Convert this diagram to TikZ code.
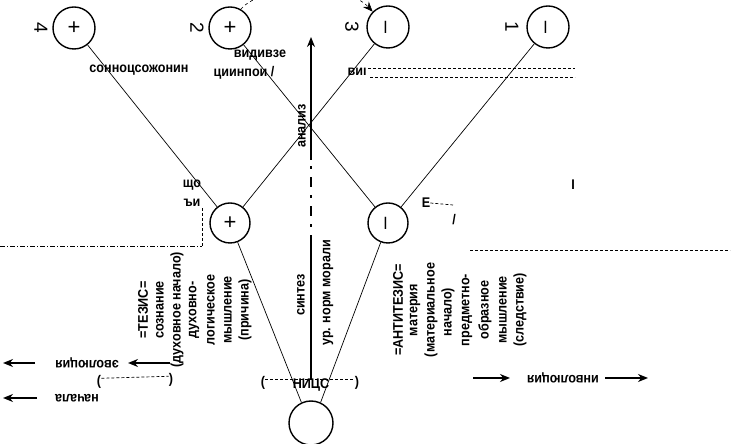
\documentclass[tikz,border=0pt]{standalone}
\usepackage{fontspec}
\setmainfont{Liberation Sans}[BoldFeatures={FakeStretch=0.9}]
\usetikzlibrary{arrows.meta}
\usetikzlibrary{positioning}
\tikzset{>={Stealth[length=10pt,width=8pt]}}

\begin{document}
\begin{tikzpicture}[x=1pt,y=1pt,
    pole/.style={circle,draw,line width=1.4pt,minimum size=42pt,inner sep=0pt},
    sign/.style={font=\fontsize{22}{22}\selectfont,inner sep=0pt},
    num/.style={font=\fontsize{19}{19}\selectfont,rotate=-90,inner sep=0pt},
    txt/.style={font=\bfseries\fontsize{14}{16}\selectfont,inner sep=0pt},
    vtxt/.style={txt,rotate=90},
    utxt/.style={txt,rotate=180},
    link/.style={line width=0.7pt},
    fat/.style={->,line width=1.9pt},
    dots/.style={line width=0.7pt,dash pattern=on 3pt off 2pt}]
  \useasboundingbox (0,0) rectangle (753,444);
  \clip (0,0) rectangle (753,444);
  % upper poles
  \node[pole] (p4) at (74,416) {};
  \node[pole] (p2) at (230,416) {};
  \node[pole] (p3) at (388,417) {};
  \node[pole] (p1) at (548,417) {};
  \node[sign] (p4s) at (p4) {+};
  \node[sign] (p2s) at (p2) {+};
  \node[sign,rotate=90] (p3s) at (p3) {–};
  \node[sign,rotate=90] (p1s) at (p1) {–};
  \node[num] (n4) at (41,416) {4};
  \node[num] (n2) at (197,416) {2};
  \node[num] (n3) at (352,417) {3};
  \node[num] (n1) at (512,417) {1};
  % thesis, antithesis, bottom
  \node[pole,minimum size=40pt] (pt) at (230,221) {};
  \node[pole,minimum size=40pt] (pa) at (388,221) {};
  \node[pole,minimum size=44pt] (pb) at (311,21) {};
  \node[sign] (pts) at (pt) {+};
  \node[sign,rotate=90] (pas) at (pa) {–};
  % connectors
  \draw[link] (p4) -- (pt);
  \draw[link] (p2) -- (pa);
  \draw[link] (p3) -- (pt);
  \draw[link] (p1) -- (pa);
  \draw[link] (pt) -- (pb.115);
  \draw[link] (pa) -- (pb.65);
  \draw[->,dashed,line width=0.6pt] (p2.60) .. controls (262,460) and (345,462) .. (p3.135);
  % axis
  \node[txt] (nic) at (311,59) {НИЦС};
  \node[txt] (lpar) at (263,61) {(};
  \node[txt] (rpar) at (357,61) {)};
  \draw[dots] ([yshift=-3pt]lpar.north east) -- ([yshift=-3pt]rpar.north west);
  \coordinate (axlow) at (311,199);
  \coordinate (axmid) at (311,284);
  \coordinate (axtop) at (311,407);
  \draw[line width=1.6pt] (nic.north) -- (axlow);
  \draw[line width=1.6pt,dash pattern=on 10pt off 8pt on 3pt off 8pt] (axlow) -- (axmid);
  \draw[line width=1.6pt,->] (axmid) -- (axtop);
  \node[vtxt] (analiz) at (302,318) {анализ};
  \node[vtxt] (sintez) at (301,149) {синтез};
  \node[vtxt] (moral) at (328,151) {ур. норм морали};
  % thesis text
  \node[vtxt] (tz0) at (143,134) {=ТЕЗИС=};
  \node[vtxt] (tz1) at (160,134) {сознание};
  \node[vtxt] (tz2) at (177,134) {(духовное начало)};
  \node[vtxt] (tz3) at (194,134) {духовно-};
  \node[vtxt] (tz4) at (211,134) {логическое};
  \node[vtxt] (tz5) at (228,134) {мышление};
  \node[vtxt] (tz6) at (245,134) {(причина)};
  % antithesis text
  \node[vtxt] (at0) at (398,134) {=АНТИТЕЗИС=};
  \node[vtxt] (at1) at (415,134) {материя};
  \node[vtxt] (at2) at (431,134) {(материальное};
  \node[vtxt] (at3) at (448,132) {начало)};
  \node[vtxt] (at4) at (467,134) {предметно-};
  \node[vtxt] (at5) at (485,134) {образное};
  \node[vtxt] (at6) at (503,134) {мышление};
  \node[vtxt] (at7) at (520,134) {(следствие)};
  % bottom rows
  \node[utxt] (evo) at (87,81) {эволюция};
  \coordinate (e1s) at (35,81);  \coordinate (e1e) at (3,81);
  \coordinate (e2s) at (170,81); \coordinate (e2e) at (128,81);
  \draw[fat] (e1s) -- (e1e);
  \draw[fat] (e2s) -- (e2e);
  \node[txt] (blpar) at (99,62) {(};
  \node[txt] (brpar) at (171,64) {)};
  \draw[dots] ([yshift=-3pt]blpar.north east) -- ([yshift=-3pt]brpar.north west);
  \node[utxt] (nach) at (77,46) {начала};
  \coordinate (n1s) at (37,46); \coordinate (n1e) at (3,46);
  \draw[fat] (n1s) -- (n1e);
  \node[utxt] (inv) at (563,66) {инволюция};
  \coordinate (i1s) at (473,66); \coordinate (i1e) at (510,66);
  \coordinate (i2s) at (605,66); \coordinate (i2e) at (648,66);
  \draw[fat] (i1s) -- (i1e);
  \draw[fat] (i2s) -- (i2e);
  % top row
  \node[txt] (top1) at (139,374) {сонноцсожонин};
  \node[txt] (top2) at (260,389) {видивзе};
  \node[txt] (top3) at (244,371) {циинпои /};
  \node[txt] (top4) at (357,372) {виı};
  \draw[dots] (368,376) -- (575,376);
  \draw[dots] (370,367) -- (575,367);
  % middle dashed lines and fragments
  \draw[line width=0.7pt,dash pattern=on 5pt off 2pt on 1pt off 2pt] (0,198) -- (202,198);
  \draw[dots] (202,198) -- (202,236);
  \draw[dots] (470,194) -- (730,194);
  \node[txt] (frg1) at (192,259) {що};
  \node[txt] (frg2) at (192,241) {ъи};
  \node[txt] (frg3) at (426,241) {Е};
  \draw[dots] (frg3.east) -- (453,239);
  \node[txt] (frg4) at (454,224) {/};
  \node[txt] (frg5) at (573,259) {I};
\end{tikzpicture}
\end{document}
